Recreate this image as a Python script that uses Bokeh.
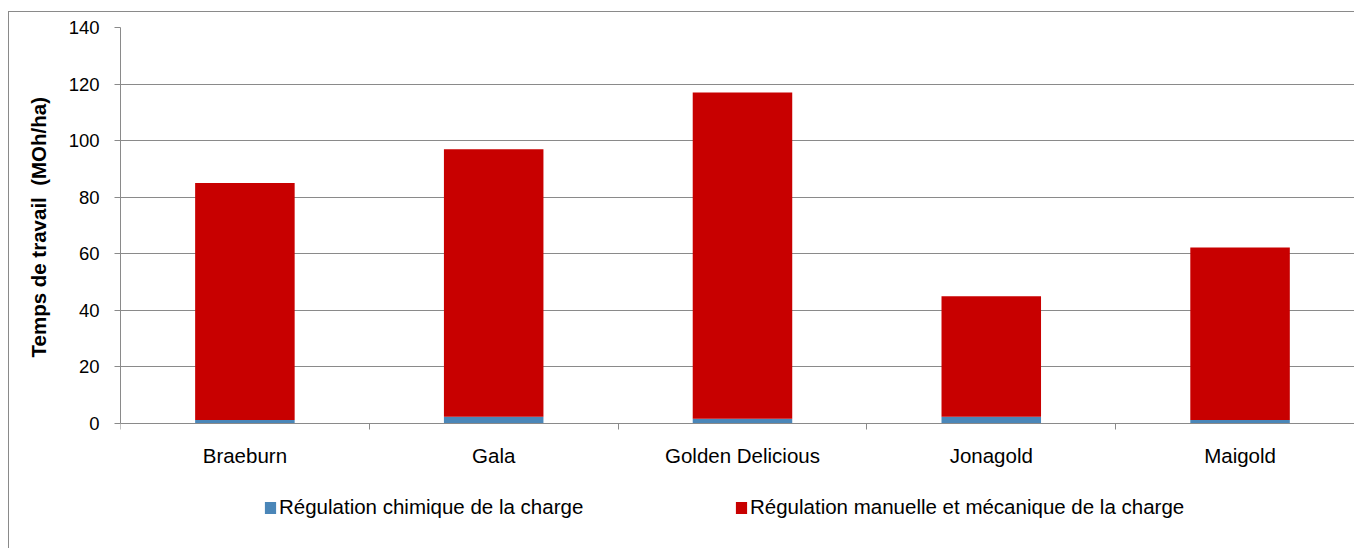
from bokeh.plotting import figure
from bokeh.models import ColumnDataSource, Range1d, FixedTicker, Legend, LegendItem, Title
from bokeh.embed import file_html
from bokeh.resources import INLINE

categories = ["Braeburn", "Gala", "Golden Delicious", "Jonagold", "Maigold"]
chimique = [1.2, 2.4, 1.7, 2.4, 1.2]
manuelle = [83.8, 94.6, 115.3, 42.6, 61.0]
y_ticks = [0, 20, 40, 60, 80, 100, 120, 140]
series_names = ["Régulation chimique de la charge",
                "Régulation manuelle et mécanique de la charge"]
y_title = "Temps de travail\u00a0 (MOh/ha)"
colors = ["#4A86B8", "#C80000"]

centers = [i + 0.5 for i in range(len(categories))]
source = ColumnDataSource(dict(x=centers, chimique=chimique, manuelle=manuelle))

FONT = "Liberation Sans"
GREY = "#8A8A8A"

# frame spans the full height; the value axis occupies 0..140, the rest leaves room
# below the category axis for the legend
p = figure(width=1346, height=537, output_backend="svg", toolbar_location=None,
           x_range=Range1d(0, 4.964), y_range=Range1d(-44.55, 140),
           min_border_left=109, min_border_right=0, min_border_top=15,
           min_border_bottom=0)
p.styles = {"border-top": f"1px solid {GREY}", "border-left": f"1px solid {GREY}",
            "margin-top": "11px", "margin-left": "8px"}

renderers = p.vbar_stack(["chimique", "manuelle"], x="x", width=0.4, color=colors,
                         line_color=None, source=source)

p.outline_line_color = None
p.background_fill_color = "white"
p.border_fill_color = "white"

# grid
p.xgrid.grid_line_color = None
p.ygrid.grid_line_color = GREY
p.ygrid.grid_line_width = 1

# y axis
p.yaxis.ticker = FixedTicker(ticks=y_ticks)
p.yaxis.bounds = (0, 140)
p.yaxis.axis_line_color = GREY
p.yaxis.major_tick_line_color = GREY
p.yaxis.major_tick_out = 6
p.yaxis.major_tick_in = 0
p.yaxis.minor_tick_line_color = None
p.yaxis.major_label_standoff = 15
p.yaxis.major_label_text_font = FONT
p.yaxis.major_label_text_font_size = "18.5px"
p.yaxis.major_label_text_color = "black"

# y axis title, placed along the 0..140 part of the axis
p.add_layout(Title(text=y_title, align="left", offset=192, standoff=31,
                   text_font=FONT, text_font_size="20.5px", text_font_style="bold",
                   text_color="black"), "left")

# x axis, drawn at value 0
p.xaxis.fixed_location = 0
p.xaxis.ticker = FixedTicker(ticks=centers, minor_ticks=list(range(len(categories) + 1)))
p.xaxis.major_label_overrides = {c: n for c, n in zip(centers, categories)}
p.xaxis.axis_line_color = GREY
p.xaxis.major_tick_line_color = None
p.xaxis.minor_tick_line_color = GREY
p.xaxis.minor_tick_out = 6
p.xaxis.minor_tick_in = 0
p.xaxis.major_tick_out = 6
p.xaxis.major_label_standoff = 15
p.xaxis.major_label_text_font = FONT
p.xaxis.major_label_text_font_size = "20.5px"
p.xaxis.major_label_text_color = "black"

legend = Legend(items=[LegendItem(label=n, renderers=[r]) for n, r in zip(series_names, renderers)],
                orientation="horizontal", location=(143, 30), spacing=0,
                label_width=455, padding=0, margin=0, border_line_color=None,
                background_fill_alpha=0,
                glyph_width=14, glyph_height=15, label_standoff=2,
                label_text_font=FONT, label_text_font_size="20.5px", label_text_color="black")
p.add_layout(legend)

open("out.html", "w").write(file_html(p, INLINE))
